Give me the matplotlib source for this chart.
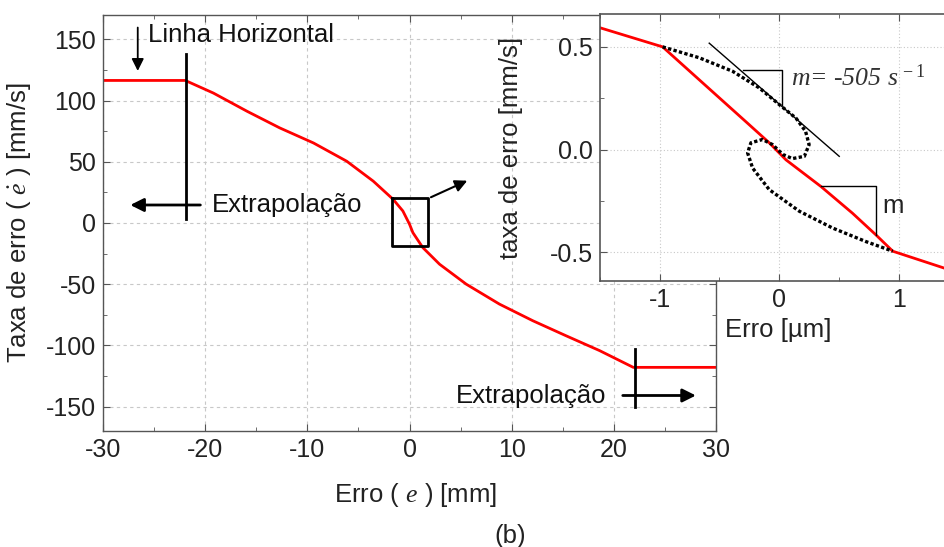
import matplotlib.pyplot as plt
from matplotlib.ticker import MultipleLocator

plt.rcParams['font.family'] = ['Liberation Sans', 'DejaVu Sans']
plt.rcParams['axes.unicode_minus'] = False
plt.rcParams['mathtext.fontset'] = 'custom'
plt.rcParams['mathtext.it'] = 'Liberation Serif:italic'
plt.rcParams['mathtext.rm'] = 'Liberation Serif'

# main curve: error [mm] vs error rate [mm/s]
erro_mm = [-30, -21.95, -19.2, -15.9, -12.7, -9.4, -6.15, -3.55, -1.6, -0.65, 0, 0.33,
           1.3, 2.94, 5.55, 8.8, 12.07, 15.3, 18.6, 21.9, 30]
taxa = [116.5, 116.5, 106.2, 91.3, 77.7, 65.4, 50.5, 34.2, 19.3, 9.8, -1, -7.9,
        -20.1, -33.7, -50, -66.3, -79.9, -92.1, -104.3, -118, -118]

# inset: error [um] vs error rate [mm/s]
red_um = [-1.5, -0.976, -0.586, -0.28, -0.084, 0.056, 0.349, 0.613, 0.81, 0.95, 1.5]
red_rate = [0.593, 0.5, 0.296, 0.136, 0.033, -0.05, -0.18, -0.31, -0.416, -0.495, -0.6]

loop_um = [-0.976, -0.67, -0.39, -0.167, 0, 0.14, 0.22, 0.25, 0.21, 0.11, 0.03,
           -0.056, -0.14, -0.237, -0.265, -0.223, -0.084, 0.167, 0.446, 0.725, 0.95]
loop_rate = [0.5, 0.447, 0.381, 0.3, 0.219, 0.153, 0.089, 0.024, -0.033, -0.044, -0.024,
             0.024, 0.049, 0.033, -0.016, -0.09, -0.195, -0.3, -0.382, -0.448, -0.495]

tangent_um = [-0.586, 0.502]
tangent_rate = [0.518, -0.033]

tri1_um = [-0.307, 0.022, 0.022]
tri1_rate = [0.389, 0.389, 0.219]
tri2_um = [0.349, 0.81, 0.81]
tri2_rate = [-0.176, -0.176, -0.414]

fig = plt.figure(figsize=(9.45, 5.47), dpi=100)
spine_col = '#555555'
txt = 18.5

# ---- main axes ----
ax = fig.add_axes([0.109, 0.2121, 0.6487, 0.7605])
ax.plot(erro_mm, taxa, color='red', lw=2)
ax.set_xlim(-30, 30)
ax.set_ylim(-170, 170)
ax.xaxis.set_major_locator(MultipleLocator(10))
ax.xaxis.set_minor_locator(MultipleLocator(5))
ax.yaxis.set_major_locator(MultipleLocator(50))
ax.yaxis.set_minor_locator(MultipleLocator(25))
ax.grid(True, which='major', color='#c8c8c8', ls=(0, (3, 3)), lw=0.8)
ax.tick_params(which='both', direction='in', top=True, right=True,
               labelsize=18, colors='#222222', pad=5)
ax.tick_params(which='major', length=5, color=spine_col)
ax.tick_params(which='minor', length=3, color=spine_col)
for s in ax.spines.values():
    s.set_color(spine_col)
    s.set_linewidth(1)

ax.set_ylabel(r'Taxa de erro ( $\dot{e}$ ) [mm/s]', fontsize=txt, color='#222222')
ax.yaxis.set_label_coords(-0.115, 0.5)
ax.set_xlabel(r'Erro ( $e$ ) [mm]', fontsize=txt, color='#222222')
ax.xaxis.set_label_coords(0.51, -0.12)

# annotations
ax.annotate('', xy=(-26.6, 122), xytext=(-26.6, 162),
            arrowprops=dict(arrowstyle='-|>', color='k', lw=1.3, mutation_scale=18))
ax.text(-25.6, 154, 'Linha Horizontal', fontsize=txt, va='center', ha='left', color='#111111')
ax.plot([-21.9, -21.9], [138.5, 3.3], color='k', lw=2)
ax.annotate('', xy=(-27.6, 14.7), xytext=(-20.2, 14.7),
            arrowprops=dict(arrowstyle='-|>', color='k', lw=2, mutation_scale=20))
ax.text(-19.3, 14.7, 'Extrapolação', fontsize=txt, va='center', ha='left', color='#111111')

ax.plot([22.05, 22.05], [-103, -150.5], color='k', lw=2)
ax.annotate('', xy=(28.3, -141), xytext=(20.6, -141),
            arrowprops=dict(arrowstyle='-|>', color='k', lw=2, mutation_scale=20))
ax.text(19.3, -141.8, 'Extrapolação', fontsize=txt, va='center', ha='right', color='#111111')

# zoom box and arrow
ax.plot([-1.7, 1.85, 1.85, -1.7, -1.7], [20.1, 20.1, -18.7, -18.7, 20.1], color='k', lw=2)
ax.annotate('', xy=(5.9, 35.5), xytext=(1.85, 20.1),
            arrowprops=dict(arrowstyle='-|>', color='k', lw=1.5, mutation_scale=18))

fig.text(510 / 945, 1 - 536 / 547, '(b)', fontsize=txt, ha='center', va='center', color='#222222')

# ---- inset ----
ins = fig.add_axes([600 / 945, 0.4863, 358.5 / 945, 0.4881])
ins.set_xlim(-1.5, 1.5)
ins.set_ylim(-0.64, 0.66)
ins.plot(red_um, red_rate, color='red', lw=2)
ins.plot(loop_um, loop_rate, color='k', lw=2.4, ls=(0, (1, 0.7)))
ins.plot(tangent_um, tangent_rate, color='k', lw=1)
ins.plot(tri1_um, tri1_rate, color='k', lw=1)
ins.plot(tri2_um, tri2_rate, color='k', lw=1)
ins.text(0.098, 0.348, r'$m$= -505 $s^{\,-1}$', fontsize=txt, family='Liberation Serif',
         style='italic', va='center', ha='left', color='#333333')
ins.text(0.86, -0.276, 'm', fontsize=txt, va='center', ha='left', color='#222222')

ins.xaxis.set_major_locator(MultipleLocator(1))
ins.xaxis.set_minor_locator(MultipleLocator(0.5))
ins.yaxis.set_major_locator(MultipleLocator(0.5))
ins.yaxis.set_minor_locator(MultipleLocator(0.25))
ins.yaxis.set_major_formatter(plt.FormatStrFormatter('%.1f'))
ins.grid(True, which='major', color='#c8c8c8', ls=(0, (1, 2)), lw=0.8)
ins.tick_params(which='both', direction='in', top=True, right=True,
                labelsize=18, colors='#222222', pad=5)
ins.tick_params(which='major', length=5, color=spine_col)
ins.tick_params(which='minor', length=3, color=spine_col)
for s in ins.spines.values():
    s.set_color(spine_col)
    s.set_linewidth(1.2)
ins.set_ylabel('taxa de erro [mm/s]', fontsize=txt, color='#222222')
ins.yaxis.set_label_coords(-0.215, 0.5)
ins.set_xlabel('Erro [µm]', fontsize=txt, color='#222222')
ins.xaxis.set_label_coords(0.497, -0.14)

fig.savefig('out.png', dpi=100)
